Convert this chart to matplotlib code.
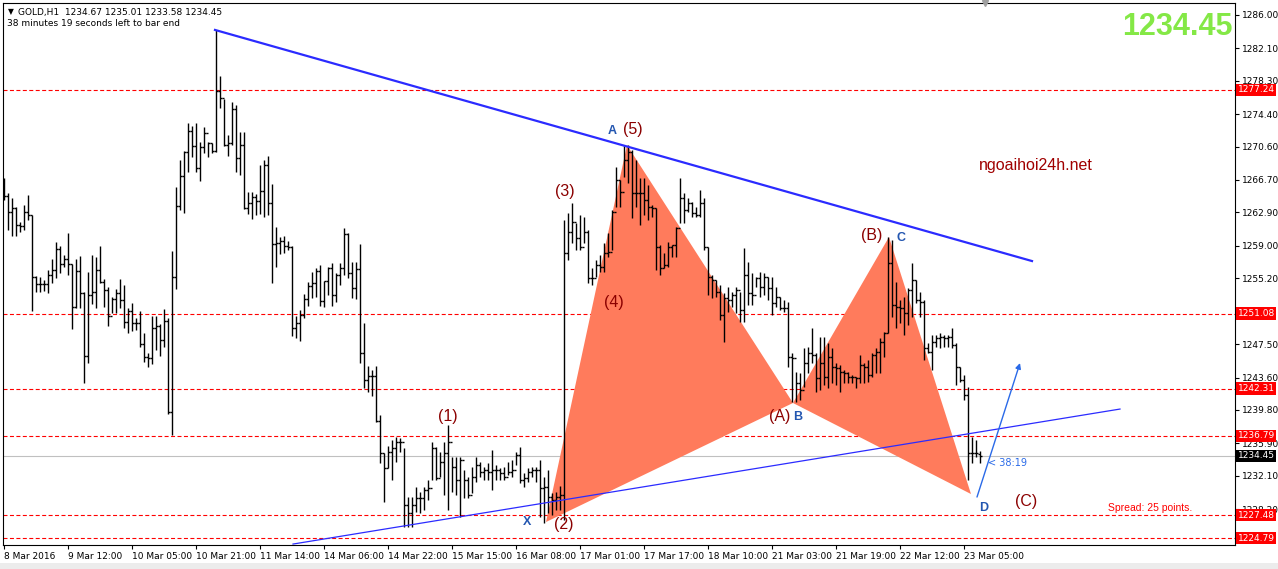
import numpy as np
import matplotlib.pyplot as plt
from matplotlib.transforms import blended_transform_factory
from matplotlib.patches import Rectangle

# GOLD H1 bars
opens = [1265.30, 1264.83, 1262.95, 1263.42, 1261.43, 1261.32, 1262.95, 1262.60, 1255.35, 1254.53,
         1254.53, 1254.53, 1255.59, 1256.17, 1258.63, 1256.87, 1257.46, 1256.87, 1251.84, 1256.05,
         1253.48, 1246.11, 1253.25, 1253.60, 1256.17, 1254.77, 1253.83, 1250.79, 1252.78, 1253.48,
         1252.66, 1250.09, 1251.38, 1249.97, 1249.97, 1247.52, 1246.00, 1245.88, 1249.39, 1249.62,
         1247.98, 1250.21, 1239.56, 1255.35, 1263.66, 1267.17, 1269.97, 1272.43, 1270.67, 1268.10,
         1270.56, 1272.19, 1271.02, 1270.09, 1277.11, 1276.29, 1270.79, 1271.02, 1275.00, 1269.27,
         1270.79, 1263.42, 1264.01, 1264.71, 1264.24, 1265.41, 1268.45, 1264.01, 1259.21, 1259.33,
         1259.56, 1258.98, 1258.86, 1249.39, 1249.97, 1250.91, 1252.78, 1254.30, 1254.65, 1256.05,
         1252.55, 1254.88, 1256.40, 1253.25, 1255.59, 1256.40, 1260.38, 1255.82, 1254.07, 1256.29,
         1246.46, 1243.31, 1243.77, 1243.77, 1238.51, 1234.77, 1233.01, 1234.88, 1235.35, 1236.05,
         1236.05, 1228.69, 1227.75, 1228.69, 1229.50, 1229.50, 1230.44, 1230.67, 1235.35, 1231.84,
         1233.71, 1234.77, 1236.05, 1233.13, 1231.61, 1233.95, 1231.61, 1229.85, 1231.96, 1233.36,
         1232.54, 1232.78, 1232.54, 1232.78, 1232.78, 1232.43, 1231.96, 1232.54, 1232.78, 1234.53,
         1231.61, 1231.84, 1232.54, 1232.78, 1232.78, 1230.67, 1230.79, 1229.62, 1229.27, 1229.62,
         1229.85, 1258.16, 1260.62, 1261.78, 1259.91, 1258.86, 1260.62, 1255.24, 1255.24, 1256.76,
         1256.52, 1258.16, 1258.28, 1262.95, 1266.70, 1265.29, 1269.04, 1269.97, 1265.18, 1265.18,
         1265.18, 1264.36, 1263.54, 1263.42, 1258.86, 1256.40, 1256.76, 1258.86, 1259.09, 1261.08,
         1264.59, 1263.19, 1264.01, 1262.84, 1262.60, 1264.01, 1258.86, 1255.35, 1255.00, 1253.60,
         1250.91, 1252.90, 1252.66, 1253.25, 1253.83, 1251.49, 1255.59, 1253.48, 1253.25, 1255.24,
         1254.18, 1255.35, 1254.07, 1252.31, 1253.01, 1251.73, 1251.73, 1246.00, 1245.88, 1242.95,
         1242.14, 1245.29, 1246.46, 1246.23, 1243.54, 1245.29, 1243.66, 1246.00, 1244.83, 1244.71,
         1244.24, 1244.12, 1243.66, 1243.66, 1243.54, 1245.06, 1244.83, 1243.89, 1246.23, 1246.58,
         1247.75, 1248.80, 1256.99, 1252.08, 1251.84, 1251.73, 1251.14, 1253.83, 1255.00, 1252.66,
         1252.43, 1247.05, 1246.58, 1247.75, 1248.22, 1248.33, 1248.22, 1248.33, 1247.40, 1244.83,
         1243.31, 1241.55, 1234.77, 1234.77, 1234.67]

highs = [1266.93, 1265.18, 1264.59, 1263.54, 1261.78, 1263.77, 1264.94, 1262.60, 1255.47, 1255.35,
         1255.00, 1256.17, 1257.46, 1259.45, 1258.98, 1257.93, 1260.50, 1256.87, 1257.46, 1257.81,
         1253.60, 1255.94, 1257.93, 1257.69, 1258.98, 1255.12, 1254.18, 1253.01, 1253.95, 1255.12,
         1254.42, 1251.73, 1252.31, 1250.56, 1251.38, 1248.80, 1246.46, 1250.79, 1250.79, 1249.86,
         1251.61, 1250.56, 1258.39, 1265.88, 1269.04, 1270.09, 1273.36, 1273.01, 1273.36, 1271.14,
         1272.90, 1271.14, 1271.02, 1284.24, 1278.86, 1276.17, 1271.96, 1275.82, 1275.47, 1272.31,
         1272.31, 1265.29, 1265.29, 1265.06, 1268.45, 1269.04, 1269.50, 1266.23, 1261.20, 1260.03,
         1260.15, 1259.56, 1258.98, 1250.79, 1251.49, 1253.36, 1254.77, 1255.94, 1256.40, 1256.76,
         1254.88, 1256.52, 1256.99, 1255.82, 1256.99, 1261.08, 1260.50, 1257.11, 1257.11, 1259.21,
         1249.97, 1244.94, 1244.47, 1244.94, 1239.21, 1234.77, 1235.59, 1236.29, 1236.64, 1236.52,
         1235.35, 1229.62, 1229.62, 1230.79, 1230.21, 1230.79, 1231.61, 1236.05, 1235.47, 1234.88,
         1236.05, 1238.04, 1234.30, 1234.30, 1234.30, 1232.78, 1231.96, 1233.13, 1234.30, 1233.71,
         1233.13, 1233.60, 1235.12, 1233.36, 1233.01, 1233.13, 1233.71, 1233.95, 1234.88, 1235.47,
         1232.43, 1233.01, 1233.13, 1233.13, 1233.95, 1231.96, 1232.78, 1230.09, 1230.21, 1230.91,
         1262.02, 1262.84, 1264.01, 1261.67, 1262.60, 1262.37, 1260.85, 1256.40, 1257.34, 1257.93,
         1259.33, 1260.50, 1263.19, 1268.22, 1266.70, 1270.79, 1270.79, 1270.21, 1269.04, 1266.93,
         1266.93, 1266.11, 1263.77, 1263.42, 1259.09, 1258.16, 1259.45, 1259.09, 1261.20, 1266.93,
         1265.18, 1264.59, 1264.12, 1263.54, 1265.53, 1264.59, 1258.86, 1255.59, 1255.00, 1254.42,
         1253.48, 1254.18, 1253.60, 1254.18, 1253.60, 1258.74, 1257.11, 1255.82, 1255.35, 1255.94,
         1255.82, 1255.35, 1255.35, 1254.18, 1253.01, 1252.66, 1252.43, 1246.46, 1244.24, 1244.12,
         1247.05, 1247.16, 1249.39, 1246.46, 1248.33, 1248.33, 1247.63, 1247.05, 1245.29, 1245.06,
         1244.47, 1244.24, 1243.89, 1243.66, 1246.23, 1245.29, 1245.64, 1246.46, 1247.05, 1248.22,
         1248.92, 1260.03, 1259.68, 1254.77, 1252.66, 1253.01, 1254.07, 1256.99, 1255.00, 1253.60,
         1252.66, 1247.63, 1248.57, 1248.57, 1248.80, 1248.57, 1248.57, 1249.39, 1247.63, 1244.83,
         1243.89, 1242.49, 1236.64, 1236.29, 1235.01]

lows = [1264.36, 1260.85, 1260.15, 1260.15, 1260.62, 1260.85, 1262.02, 1251.38, 1253.60, 1253.60,
        1253.71, 1253.48, 1254.65, 1255.24, 1255.82, 1256.52, 1255.59, 1249.27, 1251.73, 1251.73,
        1242.95, 1245.29, 1252.19, 1251.73, 1254.65, 1251.84, 1249.62, 1251.14, 1251.14, 1251.73,
        1249.39, 1248.80, 1249.04, 1249.15, 1247.16, 1245.41, 1244.83, 1245.18, 1246.81, 1246.11,
        1247.16, 1239.33, 1236.87, 1253.95, 1263.19, 1262.84, 1267.63, 1269.39, 1267.63, 1266.58,
        1269.86, 1269.39, 1269.86, 1269.97, 1275.12, 1270.67, 1269.50, 1270.79, 1267.63, 1267.28,
        1263.31, 1262.72, 1262.14, 1262.60, 1262.72, 1262.37, 1262.60, 1254.65, 1256.52, 1258.04,
        1258.16, 1258.51, 1248.45, 1248.22, 1247.87, 1250.56, 1251.96, 1252.90, 1253.01, 1251.96,
        1251.84, 1253.25, 1251.96, 1252.43, 1254.42, 1255.59, 1255.24, 1252.90, 1252.78, 1245.29,
        1242.37, 1241.90, 1241.43, 1238.39, 1233.60, 1229.04, 1233.01, 1231.61, 1233.71, 1234.88,
        1226.11, 1226.11, 1226.11, 1227.87, 1227.75, 1228.10, 1229.27, 1231.61, 1231.61, 1231.96,
        1229.85, 1228.10, 1230.21, 1229.85, 1227.28, 1229.50, 1229.50, 1230.09, 1231.38, 1231.96,
        1231.61, 1231.61, 1230.44, 1231.61, 1231.61, 1231.61, 1232.19, 1231.96, 1233.36, 1231.26,
        1230.79, 1231.38, 1231.96, 1231.38, 1227.28, 1226.58, 1227.75, 1227.52, 1228.10, 1228.10,
        1226.93, 1257.34, 1259.33, 1258.51, 1258.51, 1259.33, 1254.65, 1254.42, 1255.35, 1255.94,
        1255.94, 1257.69, 1258.51, 1263.54, 1263.54, 1267.05, 1266.35, 1262.25, 1263.54, 1261.43,
        1262.60, 1262.02, 1262.37, 1256.17, 1255.59, 1256.40, 1256.52, 1257.69, 1257.69, 1261.67,
        1261.67, 1262.95, 1262.37, 1262.37, 1262.37, 1258.51, 1253.25, 1252.90, 1253.01, 1250.32,
        1247.75, 1251.26, 1251.84, 1251.14, 1250.09, 1250.09, 1252.08, 1252.08, 1254.18, 1253.01,
        1253.25, 1252.66, 1250.91, 1251.84, 1251.49, 1251.26, 1244.83, 1240.73, 1240.73, 1240.97,
        1242.49, 1244.12, 1245.29, 1241.90, 1242.14, 1242.72, 1242.37, 1242.95, 1242.72, 1241.90,
        1242.95, 1242.95, 1242.95, 1242.37, 1242.95, 1242.95, 1243.07, 1243.66, 1244.12, 1244.12,
        1246.00, 1248.80, 1250.67, 1249.39, 1249.97, 1248.57, 1249.74, 1250.67, 1252.31, 1250.67,
        1245.64, 1246.46, 1244.47, 1247.16, 1247.05, 1247.16, 1247.16, 1247.05, 1242.72, 1243.07,
        1240.97, 1231.61, 1233.60, 1234.30, 1233.58]

closes = [1264.83, 1262.95, 1263.42, 1261.43, 1261.32, 1262.95, 1262.60, 1255.35, 1254.53, 1254.53,
          1254.53, 1255.59, 1256.17, 1258.63, 1256.87, 1257.46, 1256.87, 1251.84, 1256.05, 1253.48,
          1246.11, 1253.25, 1253.60, 1256.17, 1254.77, 1253.83, 1250.79, 1252.78, 1253.48, 1252.66,
          1250.09, 1251.38, 1249.97, 1249.97, 1247.52, 1246.00, 1245.88, 1249.39, 1249.62, 1247.98,
          1250.21, 1239.56, 1255.35, 1263.66, 1267.17, 1269.97, 1272.43, 1270.67, 1268.10, 1270.56,
          1272.19, 1271.02, 1270.09, 1277.11, 1276.29, 1270.79, 1271.02, 1275.00, 1269.27, 1270.79,
          1263.42, 1264.01, 1264.71, 1264.24, 1265.41, 1268.45, 1264.01, 1259.21, 1259.33, 1259.56,
          1258.98, 1258.86, 1249.39, 1249.97, 1250.91, 1252.78, 1254.30, 1254.65, 1256.05, 1252.55,
          1254.88, 1256.40, 1253.25, 1255.59, 1256.40, 1260.38, 1255.82, 1254.07, 1256.29, 1246.46,
          1243.31, 1243.77, 1243.77, 1238.51, 1234.77, 1233.01, 1234.88, 1235.35, 1236.05, 1236.05,
          1228.69, 1227.75, 1228.69, 1229.50, 1229.50, 1230.44, 1230.67, 1235.35, 1231.84, 1233.71,
          1234.77, 1236.05, 1233.13, 1231.61, 1233.95, 1231.61, 1229.85, 1231.96, 1233.36, 1232.54,
          1232.78, 1232.54, 1232.78, 1232.78, 1232.43, 1231.96, 1232.54, 1232.78, 1234.53, 1231.61,
          1231.84, 1232.54, 1232.78, 1232.78, 1230.67, 1230.79, 1229.62, 1229.27, 1229.62, 1229.85,
          1258.16, 1260.62, 1261.78, 1259.91, 1258.86, 1260.62, 1255.24, 1255.24, 1256.76, 1256.52,
          1258.16, 1258.28, 1262.95, 1266.70, 1265.29, 1269.04, 1269.97, 1265.18, 1265.18, 1265.18,
          1264.36, 1263.54, 1263.42, 1258.86, 1256.40, 1256.76, 1258.86, 1259.09, 1261.08, 1264.59,
          1263.19, 1264.01, 1262.84, 1262.60, 1264.01, 1258.86, 1255.35, 1255.00, 1253.60, 1250.91,
          1252.90, 1252.66, 1253.25, 1253.83, 1251.49, 1255.59, 1253.48, 1253.25, 1255.24, 1254.18,
          1255.35, 1254.07, 1252.31, 1253.01, 1251.73, 1251.73, 1246.00, 1245.88, 1242.95, 1242.14,
          1245.29, 1246.46, 1246.23, 1243.54, 1245.29, 1243.66, 1246.00, 1244.83, 1244.71, 1244.24,
          1244.12, 1243.66, 1243.66, 1243.54, 1245.06, 1244.83, 1243.89, 1246.23, 1246.58, 1247.75,
          1248.80, 1256.99, 1252.08, 1251.84, 1251.73, 1251.14, 1253.83, 1255.00, 1252.66, 1252.43,
          1247.05, 1246.58, 1247.75, 1248.22, 1248.33, 1248.22, 1248.33, 1247.40, 1244.83, 1243.31,
          1241.55, 1234.77, 1234.77, 1234.77, 1234.45]

date_pos = [0, 16, 32, 48, 64, 80, 96, 112, 128, 144, 160, 176, 192, 208, 224, 240]
date_labels = ["8 Mar 2016", "9 Mar 12:00", "10 Mar 05:00", "10 Mar 21:00", "11 Mar 14:00",
               "14 Mar 06:00", "14 Mar 22:00", "15 Mar 15:00", "16 Mar 08:00", "17 Mar 01:00",
               "17 Mar 17:00", "18 Mar 10:00", "21 Mar 03:00", "21 Mar 19:00", "22 Mar 12:00",
               "23 Mar 05:00"]

price_ticks = [1286.00, 1282.10, 1278.30, 1274.40, 1270.60, 1266.70, 1262.90, 1259.00, 1255.20,
               1251.30, 1247.50, 1243.60, 1239.80, 1235.90, 1232.10, 1228.20, 1224.40]
# tick labels that sit fully under a price box on the chart
hidden_ticks = [1251.30, 1224.40]
levels = [1277.24, 1251.08, 1242.31, 1236.79, 1227.48, 1224.79]
bid = 1234.45

# harmonic pattern points X A B C D (bar position, price)
pat_x = [135.5, 155.75, 197.25, 221.25, 241.75]
pat_y = [1226.70, 1270.79, 1240.62, 1260.03, 1229.97]
pat_names = ["X", "A", "B", "C", "D"]
name_x = [130.75, 152.0, 198.5, 224.25, 245.0]
name_y = [1226.70, 1272.43, 1238.98, 1259.91, 1228.34]

# wave counts
wave_text = ["(1)", "(2)", "(3)", "(4)", "(5)", "(A)", "(B)", "(C)"]
wave_x = [111.0, 140.0, 140.25, 152.5, 157.25, 194.0, 217.0, 255.5]
wave_y = [1239.09, 1226.35, 1265.41, 1252.43, 1272.66, 1239.09, 1260.15, 1229.15]

# trend lines
upper_x, upper_y = [52.75, 257.0], [1284.25, 1257.22]
lower_x, lower_y = [72.25, 279.0], [1224.12, 1239.91]
arrow_x, arrow_y = [243.25, 254.0], [1229.62, 1245.29]

W, H = 1278, 569
fig = plt.figure(figsize=(W / 100, H / 100), dpi=100)
ax = fig.add_axes([3 / W, 24 / H, 1232 / W, 542 / H])
ax.set_xlim(-0.25, 307.75)
ax.set_ylim(1224.01, 1287.40)

idx = np.arange(len(closes))
red = '#ff0000'

for lv in levels:
    ax.axhline(lv, color=red, lw=0.8, ls=(0, (3.6, 2.2)), zorder=1)
ax.axhline(bid, color='#c0c0c0', lw=0.8, zorder=1)

fill_c = '#ff7b5c'
ax.fill(pat_x[0:3], pat_y[0:3], color=fill_c, lw=0, zorder=2)
ax.fill(pat_x[2:5], pat_y[2:5], color=fill_c, lw=0, zorder=2)

ax.vlines(idx, lows, highs, color='black', lw=1.0, zorder=3)
ax.hlines(opens, idx - 0.55, idx, color='black', lw=1.0, zorder=3)
ax.hlines(closes, idx, idx + 0.55, color='black', lw=1.0, zorder=3)

ax.plot(upper_x, upper_y, color='#2b2bff', lw=1.6, zorder=4)
ax.plot(lower_x, lower_y, color='#2b2bff', lw=0.9, zorder=4)
ax.annotate('', xy=(arrow_x[1], arrow_y[1]), xytext=(arrow_x[0], arrow_y[0]),
            arrowprops=dict(arrowstyle='-|>', color='#2a6ae8', lw=1.0,
                            mutation_scale=8, shrinkA=0, shrinkB=0), zorder=4)

for t, x, y in zip(pat_names, name_x, name_y):
    ax.text(x, y, t, color='#2356b0', fontsize=9, fontweight='bold',
            ha='center', va='center', family='Liberation Sans', zorder=5)
for t, x, y in zip(wave_text, wave_x, wave_y):
    ax.text(x, y, t, color='#8b0000', fontsize=11.5, ha='center', va='center',
            family='Liberation Sans', zorder=5)

ax.text(258, 1268.45, 'ngoaihoi24h.net', color='#a00000', fontsize=11.5,
        ha='center', va='center', family='Liberation Sans', zorder=5)
ax.text(286.5, 1228.34, 'Spread: 25 points.', color=red, fontsize=7.5,
        ha='center', va='center', family='Liberation Sans', zorder=5)
ax.text(246, 1233.60, '< 38:19', color='#2a6ae8', fontsize=7,
        ha='left', va='center', zorder=5)

# chart shift marker at the top
ax.plot([245.25], [1.0], marker='v', ms=5, color='#a0a0a0',
        transform=blended_transform_factory(ax.transData, ax.transAxes),
        clip_on=False, zorder=6)

# axes styling, MT4 style
for s in ax.spines.values():
    s.set_color('black')
    s.set_linewidth(0.8)
ax.yaxis.tick_right()
ax.set_yticks(price_ticks)
ax.set_yticklabels(['' if p in hidden_ticks else f'{p:.2f}' for p in price_ticks])
ax.set_xticks(date_pos)
ax.set_xticklabels(date_labels, ha='left')
ax.tick_params(axis='both', direction='out', length=3, width=0.8, labelsize=6.5,
               colors='black', pad=2)
ax.tick_params(axis='x', pad=2)

tr = blended_transform_factory(ax.transAxes, ax.transData)
for lv in levels:
    ax.text(1.002, lv, f'{lv:.2f}', transform=tr, color='white', fontsize=6.5,
            ha='left', va='center', clip_on=False, zorder=10,
            bbox=dict(boxstyle='square,pad=0.18', fc=red, ec='none'))
ax.text(1.002, bid, f'{bid:.2f}', transform=tr, color='white', fontsize=6.5,
        ha='left', va='center', clip_on=False, zorder=10,
        bbox=dict(boxstyle='square,pad=0.18', fc='black', ec='none'))

fig.text(8 / W, 1 - 12 / H, '\u25bc', fontsize=5.5, va='center', ha='left')
fig.text(18 / W, 1 - 12 / H, 'GOLD,H1  1234.67 1235.01 1233.58 1234.45',
         fontsize=6.5, va='center', ha='left')
fig.text(7 / W, 1 - 24 / H, '38 minutes 19 seconds left to bar end',
         fontsize=6.5, va='center', ha='left')
fig.text(1233 / W, 1 - 27 / H, '1234.45', fontsize=22, fontweight='bold',
         color='#84e846', ha='right', va='center', family='Liberation Sans')

# tab strip at the very bottom of the window
fig.patches.append(Rectangle((0, 0), 1, 6 / H, transform=fig.transFigure,
                             facecolor='#ececec', edgecolor='none', zorder=0))

fig.savefig('out.png', dpi=100)
